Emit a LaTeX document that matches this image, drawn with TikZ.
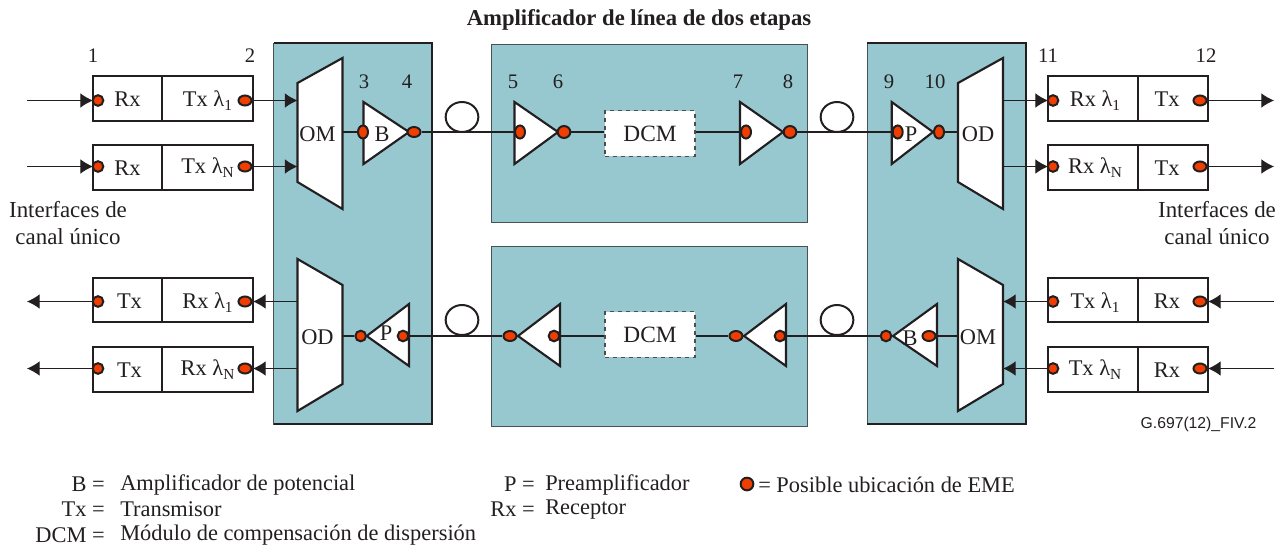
\documentclass[tikz,border=0pt]{standalone}
\usepackage{fontspec}
\usepackage{tikz}
\usetikzlibrary{arrows.meta,shapes.geometric}
\setmainfont{Liberation Serif}
\setsansfont{Liberation Sans}
\definecolor{panelblue}{RGB}{151,200,208}
\definecolor{ink}{RGB}{35,31,32}
\definecolor{dotred}{RGB}{240,62,0}
\newcommand{\chan}[1]{λ\raisebox{-3pt}{\fontsize{11.5}{12}\selectfont #1}}
\tikzset{
  lbl/.style={font=\fontsize{16.8}{20}\selectfont, text=ink, inner sep=0pt},
  num/.style={font=\fontsize{15.5}{18}\selectfont, text=ink, inner sep=0pt},
  cell/.style={draw=ink, line width=1.6pt, fill=white, minimum height=33.5pt, inner sep=0pt, lbl, text height=12.5pt, text depth=0pt},
  dcm/.style={draw=ink!80, dashed, line width=0.9pt, fill=white, lbl, font=\fontsize{17.5}{20}\selectfont, minimum width=67.5pt, minimum height=34pt},
  dot/.style={ellipse, draw=ink, line width=1.5pt, fill=dotred, inner sep=0pt, minimum width=8pt, minimum height=8pt},
  dotl/.style={dot, minimum width=9.5pt, minimum height=9pt},
  dotw/.style={dot, minimum width=9.8pt, minimum height=7.5pt},
  doth/.style={dot, minimum width=7.5pt, minimum height=9.8pt},
  panel/.style={fill=panelblue, draw=ink!70!panelblue, line width=0.7pt},
  edge/.style={draw=ink, line width=2.2pt},
  part/.style={draw=ink, line width=1.6pt, fill=white, line join=miter},
  sig/.style={draw=ink, line width=0.8pt, -{Latex[length=9.5pt,width=11pt]}},
  fibre/.style={ellipse, draw=ink, line width=1.5pt, inner sep=0pt, minimum width=24.5pt, minimum height=22.5pt},
}
\begin{document}
\begin{tikzpicture}[x=0.75pt, y=-0.75pt]
  \useasboundingbox (0,0) rectangle (1285,550);

  % panels
  \draw[panel] (273.5,43) rectangle (432,424);
  \draw[panel] (867,43) rectangle (1026,424);
  \draw[panel] (491,44.5) rectangle (807,222);
  \draw[panel] (491,246) rectangle (807,426);
  \draw[ink, line width=2.2pt] (273.5,43) -- (432,43) -- (432,424) -- (273.5,424);
  \draw[ink, line width=2.2pt] (867,43) -- (1026,43) -- (1026,424) -- (867,424);

  % mux and demux
  \foreach \n/\x/\p in {omA/297.5/OM, odD/958/OD} {
    \draw[part] (\x,83) -- (\x+45,58) -- (\x+45,209) -- (\x,182) -- cycle;
    \node[lbl] at (\x+20,134) {\p};
    \coordinate (\n) at (\x,132);
    \coordinate (\n r) at (\x+45,132);
  }
  \foreach \n/\x/\p in {odB/297.5/OD, omC/958/OM} {
    \draw[part] (\x,259) -- (\x+45,285) -- (\x+45,384) -- (\x,411) -- cycle;
    \node[lbl] at (\x+20,337) {\p};
    \coordinate (\n) at (\x,336);
    \coordinate (\n r) at (\x+45,336);
  }

  % DCM
  \node[dcm] (dcmA) at (650,133.5) {DCM};
  \node[dcm] (dcmB) at (650,334.5) {DCM};

  % fibre loops
  \node[fibre] (loopA) at (462,117) {};
  \node[fibre] (loopB) at (837,117) {};
  \node[fibre] (loopC) at (462,320) {};
  \node[fibre] (loopD) at (837,320) {};

  % amplifiers
  \foreach \x/\w in {363.5/45.5, 514.5/43.5, 740/43, 891.7/41.3}
    \draw[part] (\x,102) -- (\x+\w,132) -- (\x,164) -- cycle;
  \foreach \x/\w in {366.7/42.3, 518/42, 744/42, 893/44}
    \draw[part] (\x,336) -- (\x+\w,304) -- (\x+\w,366) -- cycle;
  \node[lbl] (ampB) at (382,134) {B};
  \node[lbl] (ampP) at (911,134) {P};
  \node[lbl] (ampQ) at (386,333) {P};
  \node[lbl] (ampC) at (910,338) {B};

  % monitoring points
  \node[doth] (p3) at (363,132) {};
  \node[dotw] (p4) at (414,132) {};
  \node[doth] (p5) at (520,132) {};
  \node[dotl] (p6) at (564,132) {};
  \node[doth] (p7) at (746,132) {};
  \node[dotl] (p8) at (790,132) {};
  \node[doth] (p9) at (897.7,132) {};
  \node[doth] (p10) at (939,132) {};
  \node[dot] (q1) at (360.7,336) {};
  \node[dot] (q2) at (403,336) {};
  \node[dotw] (q3) at (510,336) {};
  \node[dot] (q4) at (554,336) {};
  \node[dotw] (q5) at (736,336) {};
  \node[dot] (q6) at (780,336) {};
  \node[dot] (q7) at (886,336) {};
  \node[dotw] (q8) at (929,336) {};

  % main line
  \draw[edge] (omAr) -- (p3);
  \draw[edge] (p4) -- (p5);
  \draw[edge] (p6) -- (dcmA.west |- p6);
  \draw[edge] (dcmA.east |- p6) -- (p7);
  \draw[edge] (p8) -- (p9);
  \draw[edge] (p10) -- (odD);
  \draw[edge] (odBr) -- (q1);
  \draw[edge] (q2) -- (q3);
  \draw[edge] (q4) -- (dcmB.west |- q4);
  \draw[edge] (dcmB.east |- q4) -- (q5);
  \draw[edge] (q6) -- (q7);
  \draw[edge] (q8) -- (omC);

  % interface boxes
  \foreach \n/\y/\t/\r in {a/98.5/1/0pt, b/167.5/N/2pt} {
    \node[cell, minimum width=51.5pt] (\n1) at (127.5,\y) {Rx};
    \node[cell, minimum width=68.5pt] (\n2) at (207.5,\y) {\raisebox{\r}{Tx \chan{\t}}};
    \node[cell, minimum width=68pt] (\n3) at (1093,\y) {\hspace{3pt}\raisebox{\r}{Rx \chan{\t}}};
    \node[cell, minimum width=52.5pt] (\n4) at (1173,\y) {\hspace{-9pt}Tx};
  }
  \foreach \n/\y/\t/\r in {c/300/1/0pt, d/369.5/N/2pt} {
    \node[cell, minimum width=51.5pt] (\n1) at (127.5,\y) {\hspace{3pt}Tx};
    \node[cell, minimum width=68.5pt] (\n2) at (207.5,\y) {\raisebox{\r}{Rx \chan{\t}}};
    \node[cell, minimum width=68pt] (\n3) at (1093,\y) {\hspace{3pt}\raisebox{\r}{Tx \chan{\t}}};
    \node[cell, minimum width=52.5pt] (\n4) at (1173,\y) {\hspace{-9pt}Rx};
  }
  \foreach \n/\y in {a/100.5, b/166.5, c/301.5, d/368.5} {
    \node[dot] (\n1p) at (98,\y) {};
    \node[dotw] (\n2p) at (245,\y) {};
    \node[dot] (\n3p) at (1053,\y) {};
    \node[dotw] (\n4p) at (1200,\y) {};
    \coordinate (\n L) at (27,\y);
    \coordinate (\n R) at (1274,\y);
    \coordinate (\n1e) at (93,\y);
    \coordinate (\n2e) at (253,\y);
    \coordinate (\n3e) at (1048,\y);
    \coordinate (\n4e) at (1208,\y);
    \coordinate (\n M) at (297.5,\y);
    \coordinate (\n D) at (1003,\y);
  }

  % signals
  \foreach \n in {a,b} {
    \draw[sig] (\n L) -- (\n1e);
    \draw[sig] (\n2e) -- (\n M);
    \draw[sig] (\n D) -- (\n3e);
    \draw[sig] (\n4e) -- (\n R);
  }
  \foreach \n in {c,d} {
    \draw[sig] (\n1e) -- (\n L);
    \draw[sig] (\n M) -- (\n2e);
    \draw[sig] (\n3e) -- (\n D);
    \draw[sig] (\n R) -- (\n4e);
  }

  % reference points
  \foreach \t/\x/\y in {1/93/56, 2/250/56, 3/364/82, 4/407/82, 5/513/82, 6/558/82, 7/738/82, 8/788/82, 9/889/82, 10/935/82, 11/1048/56, 12/1206/56}
    \node[num] (ref\t) at (\x,\y) {\t};

  % titles
  \node[lbl, font=\fontsize{17}{20}\selectfont\bfseries] (title) at (639,20) {Amplificador de línea de dos etapas};
  \node[lbl, align=center, font=\fontsize{17.2}{20.5}\selectfont] (ifL) at (68,223) {Interfaces de\\canal único};
  \node[lbl, align=center, font=\fontsize{17.2}{20.5}\selectfont] (ifR) at (1217,223) {Interfaces de\\canal único};
  \node[lbl, font=\sffamily\fontsize{11.8}{14}\selectfont] (code) at (1198.5,424) {G.697(12)\_FIV.2};

  % legend
  \node[lbl, anchor=east] (keyB) at (105,484.5) {B =};
  \node[lbl, anchor=west] (txtB) at (120,484.5) {Amplificador de potencial};
  \node[lbl, anchor=east] (keyT) at (105,509.5) {Tx =};
  \node[lbl, anchor=west] (txtT) at (120,509.5) {Transmisor};
  \node[lbl, anchor=east] (keyD) at (105,535.5) {DCM =};
  \node[lbl, anchor=west] (txtD) at (120,535.5) {Módulo de compensación de dispersión};
  \node[lbl, anchor=east] (keyP) at (535,484.5) {P =};
  \node[lbl, anchor=west] (txtP) at (545,484.5) {Preamplificador};
  \node[lbl, anchor=east] (keyR) at (535,509.5) {Rx =};
  \node[lbl, anchor=west] (txtR) at (545,509.5) {Receptor};
  \node[dot, minimum width=9.5pt, minimum height=9.5pt] (keyE) at (747,484) {};
  \node[lbl, anchor=west] (txtE) at (758,484.5) {= Posible ubicación de EME};
\end{tikzpicture}
\end{document}
